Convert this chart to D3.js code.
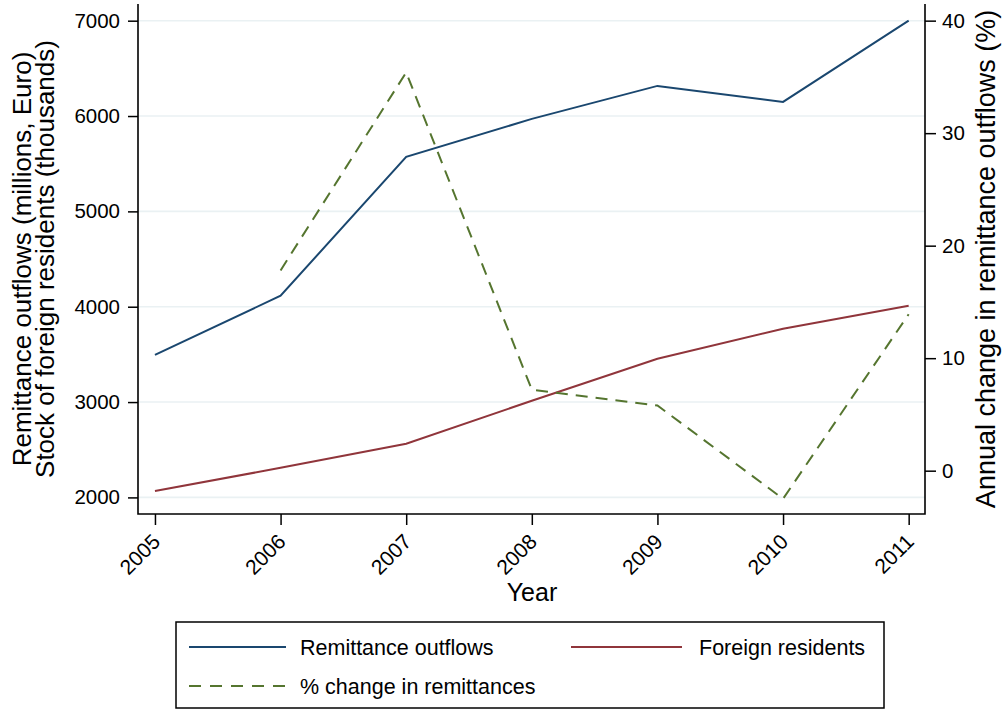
<!DOCTYPE html>
<html>
<head>
<meta charset="utf-8">
<script src="https://cdn.jsdelivr.net/npm/d3@7"></script>
<style>
  html, body { margin: 0; padding: 0; background: #ffffff; }
  svg { display: block; font-family: "Liberation Sans", Arial, Helvetica, sans-serif; }
</style>
</head>
<body>
<svg id="chart" width="1005" height="711"></svg>
<script>
// Years on the horizontal axis
const years = [2005, 2006, 2007, 2008, 2009, 2010, 2011];
// Remittance outflows, millions of euro
const remittanceOutflows = [3495, 4115, 5572, 5970, 6316, 6148, 7000];
// Stock of foreign residents, thousands
const foreignResidents = [2068, 2310, 2563, 3014, 3454, 3769, 4010];
// Annual change in remittance outflows, percent (no value for the first year)
const pctChangeYears = [2006, 2007, 2008, 2009, 2010, 2011];
const pctChange = [17.8, 35.4, 7.2, 5.8, -2.5, 13.9];

const leftTicks = [2000, 3000, 4000, 5000, 6000, 7000];
const rightTicks = [0, 10, 20, 30, 40];

const seriesColors = { remit: "#1a476f", resid: "#90353b", pct: "#55752f" };

const svg = d3.select("#chart");
const frame = { left: 138, right: 925, top: 4, bottom: 514 };

const x = d3.scaleLinear().domain([2004.865, 2011.13]).range([frame.left, frame.right]);
const yL = d3.scaleLinear().domain([1826, 7175]).range([frame.bottom, frame.top]);
const yR = d3.scaleLinear().domain([-3.85, 41.48]).range([frame.bottom, frame.top]);

// Horizontal grid lines at the left-axis ticks
svg.append("g")
  .selectAll("line")
  .data(leftTicks)
  .join("line")
  .attr("x1", frame.left).attr("x2", frame.right)
  .attr("y1", d => yL(d)).attr("y2", d => yL(d))
  .attr("stroke", "#eaf1f3").attr("stroke-width", 1.6);

// Series lines
const lineL = (xs, ys) => d3.line().x((d, i) => x(xs[i])).y(d => yL(d))(ys);
const lineR = (xs, ys) => d3.line().x((d, i) => x(xs[i])).y(d => yR(d))(ys);

svg.append("path")
  .attr("d", lineL(years, foreignResidents))
  .attr("fill", "none").attr("stroke", seriesColors.resid).attr("stroke-width", 2);

svg.append("path")
  .attr("d", lineL(years, remittanceOutflows))
  .attr("fill", "none").attr("stroke", seriesColors.remit).attr("stroke-width", 2);

svg.append("path")
  .attr("d", lineR(pctChangeYears, pctChange))
  .attr("fill", "none").attr("stroke", seriesColors.pct).attr("stroke-width", 2)
  .attr("stroke-dasharray", "12,8");

// Axes
const axisColor = "#000";
const intFmt = d3.format("d");
const leftAxis = svg.append("g")
  .attr("transform", `translate(${frame.left},0)`)
  .call(d3.axisLeft(yL).tickValues(leftTicks).tickFormat(intFmt).tickSize(10).tickPadding(8).tickSizeOuter(0));
const rightAxis = svg.append("g")
  .attr("transform", `translate(${frame.right},0)`)
  .call(d3.axisRight(yR).tickValues(rightTicks).tickFormat(intFmt).tickSize(11).tickPadding(6).tickSizeOuter(0));
const bottomAxis = svg.append("g")
  .attr("transform", `translate(0,${frame.bottom})`)
  .call(d3.axisBottom(x).tickValues(years).tickFormat(intFmt).tickSize(11).tickSizeOuter(0));

[leftAxis, rightAxis, bottomAxis].forEach(g => {
  g.select(".domain").remove();
  g.selectAll(".tick line").attr("stroke", axisColor).attr("stroke-width", 1.5);
  g.selectAll(".tick text").attr("fill", "#000").attr("font-size", 20.5);
});

bottomAxis.selectAll(".tick text")
  .attr("text-anchor", "end")
  .attr("dy", null)
  .attr("y", null)
  .attr("font-size", 21)
  .attr("transform", "translate(6,29) rotate(-45)");

// Frame: left, bottom and right axis lines
svg.append("path")
  .attr("d", `M${frame.left},${frame.top}V${frame.bottom}H${frame.right}V${frame.top}`)
  .attr("fill", "none").attr("stroke", axisColor).attr("stroke-width", 1.6);

// Axis titles
const leftTitle = svg.append("text")
  .attr("transform", `translate(31,${(frame.top + frame.bottom) / 2}) rotate(-90)`)
  .attr("text-anchor", "middle").attr("font-size", 26).attr("fill", "#000");
leftTitle.append("tspan").attr("x", 0).attr("y", 0).text("Remittance outflows (millions, Euro)");
leftTitle.append("tspan").attr("x", 0).attr("y", 23).text("Stock of foreign residents (thousands)");

svg.append("text")
  .attr("transform", `translate(995,${(frame.top + frame.bottom) / 2}) rotate(-90)`)
  .attr("text-anchor", "middle").attr("font-size", 27).attr("fill", "#000")
  .text("Annual change in remittance outflows (%)");

svg.append("text")
  .attr("x", 532).attr("y", 601)
  .attr("text-anchor", "middle").attr("font-size", 25).attr("fill", "#000")
  .text("Year");

// Legend
const legendItems = [
  { label: "Remittance outflows", color: seriesColors.remit, dash: null, col: 0, row: 0 },
  { label: "Foreign residents", color: seriesColors.resid, dash: null, col: 1, row: 0 },
  { label: "% change in remittances", color: seriesColors.pct, dash: "12,9", col: 0, row: 1 }
];
const legend = svg.append("g");
legend.append("rect")
  .attr("x", 176).attr("y", 622).attr("width", 708).attr("height", 86)
  .attr("fill", "#fff").attr("stroke", "#000").attr("stroke-width", 1.5);
const colX = [189, 571];
const rowY = [647, 686];
const item = legend.selectAll("g.item").data(legendItems).join("g")
  .attr("class", "item")
  .attr("transform", d => `translate(${colX[d.col]},${rowY[d.row]})`);
item.append("line")
  .attr("x1", 0).attr("x2", d => d.col === 0 ? 97 : 111).attr("y1", 0).attr("y2", 0)
  .attr("stroke", d => d.color).attr("stroke-width", 2)
  .attr("stroke-dasharray", d => d.dash);
item.append("text")
  .attr("x", d => d.col === 0 ? 111 : 128).attr("y", 0).attr("dy", "0.35em")
  .attr("font-size", 21.5).attr("fill", "#000")
  .text(d => d.label);
</script>
</body>
</html>
